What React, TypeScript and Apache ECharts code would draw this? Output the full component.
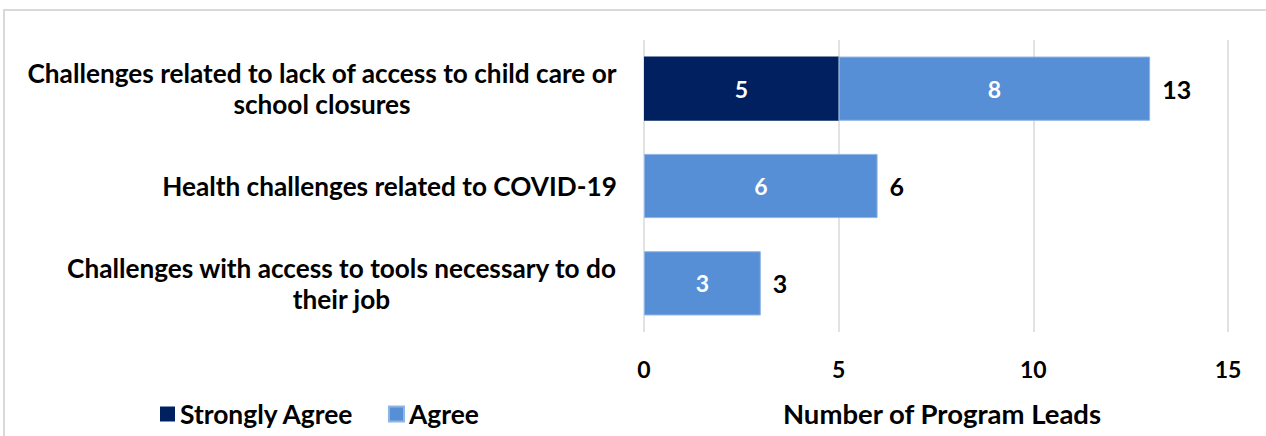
import React, { useEffect, useRef } from "react";
import * as echarts from "echarts";

const categories = [
  "Challenges related to lack of access to child care or\nschool closures",
  "Health challenges related to COVID-19",
  "Challenges with access to tools necessary to do\ntheir job",
];
const stronglyAgree = [5, 0, 0];
const agree = [8, 6, 3];
const totals = [13, 6, 3];
const xTicks = [0, 5, 10, 15];

const FONT = "Lato";
const CAT_SIZE = 26.2;

function measure(text: string, size: number): number {
  const c = document.createElement("canvas").getContext("2d");
  if (!c) return text.length * size * 0.5;
  c.font = `bold ${size}px ${FONT}`;
  return c.measureText(text).width;
}

export default function App() {
  const ref = useRef<HTMLDivElement>(null);
  useEffect(() => {
    const chart = echarts.init(ref.current!, null, { renderer: "svg" });
    const rich: Record<string, any> = {};
    categories.forEach((cat, i) => {
      const w = Math.max(...cat.split("\n").map((l) => measure(l, CAT_SIZE)));
      rich["c" + i] = {
        width: Math.ceil(w) + 2,
        align: "center",
        fontFamily: FONT,
        fontSize: CAT_SIZE,
        fontWeight: "bold",
        color: "#000",
        lineHeight: 31,
      };
    });
    chart.setOption({
      animation: false,
      textStyle: { fontFamily: FONT },
      grid: { left: 644, right: 38, top: 40, bottom: 104, containLabel: false },
      legend: {
        left: 155,
        top: 396,
        itemWidth: 15,
        itemHeight: 15,
        itemGap: 34,
        icon: "rect",
        textStyle: { fontFamily: FONT, fontSize: 26.4, fontWeight: "bold", color: "#000" },
        data: ["Strongly Agree", "Agree"],
      },
      xAxis: {
        type: "value",
        min: xTicks[0],
        max: xTicks[xTicks.length - 1],
        interval: 5,
        name: "Number of Program Leads",
        nameLocation: "middle",
        nameGap: 67,
        nameTextStyle: {
          fontFamily: FONT,
          fontSize: 27.5,
          fontWeight: "bold",
          color: "#000",
          padding: [0, 0, 0, 12],
        },
        axisLine: { show: false },
        axisTick: { show: false },
        axisLabel: { fontFamily: FONT, fontSize: 23, fontWeight: "bold", color: "#000", margin: 25 },
        splitLine: { lineStyle: { color: "#d9d9d9", width: 1.5 } },
      },
      yAxis: {
        type: "category",
        inverse: true,
        data: categories,
        axisLine: { show: false },
        axisTick: { show: false },
        axisLabel: {
          fontFamily: FONT,
          fontSize: CAT_SIZE,
          fontWeight: "bold",
          color: "#000",
          margin: 26,
          lineHeight: 31,
          align: "right",
          formatter: (value: string, index: number) =>
            value
              .split("\n")
              .map((l) => `{c${index}|${l}}`)
              .join("\n"),
          rich,
        },
      },
      series: [
        {
          name: "Strongly Agree",
          type: "bar",
          stack: "total",
          barCategoryGap: "34%",
          data: stronglyAgree,
          itemStyle: { color: "#002060" },
          label: {
            show: true,
            position: "inside",
            color: "#fff",
            fontFamily: FONT,
            fontSize: 23,
            fontWeight: "bold",
            formatter: (p: any) => (p.value ? String(p.value) : ""),
          },
        },
        {
          name: "Agree",
          type: "bar",
          stack: "total",
          data: agree,
          itemStyle: { color: "#568fd5", borderColor: "#8fb5e5", borderWidth: 1 },
          label: {
            show: true,
            position: "inside",
            color: "#fff",
            fontFamily: FONT,
            fontSize: 23,
            fontWeight: "bold",
            formatter: (p: any) => (p.value ? String(p.value) : ""),
          },
        },
        {
          name: "Total",
          type: "bar",
          stack: "total",
          data: totals.map(() => 0),
          itemStyle: { color: "transparent" },
          label: {
            show: true,
            position: "right",
            distance: 12,
            color: "#000",
            fontFamily: FONT,
            fontSize: 25,
            fontWeight: "bold",
            formatter: (p: any) => String(totals[p.dataIndex]),
          },
        },
      ],
      graphic: [
        {
          type: "rect",
          shape: { x: 4, y: 10, width: 1300, height: 500 },
          style: { fill: "none", stroke: "#d9d9d9", lineWidth: 2 },
          silent: true,
        },
      ],
    });
    return () => chart.dispose();
  }, []);
  return (
    <div
      ref={ref}
      style={{ position: "fixed", left: 0, top: 0, width: 1266, height: 436, background: "#fff" }}
    />
  );
}
